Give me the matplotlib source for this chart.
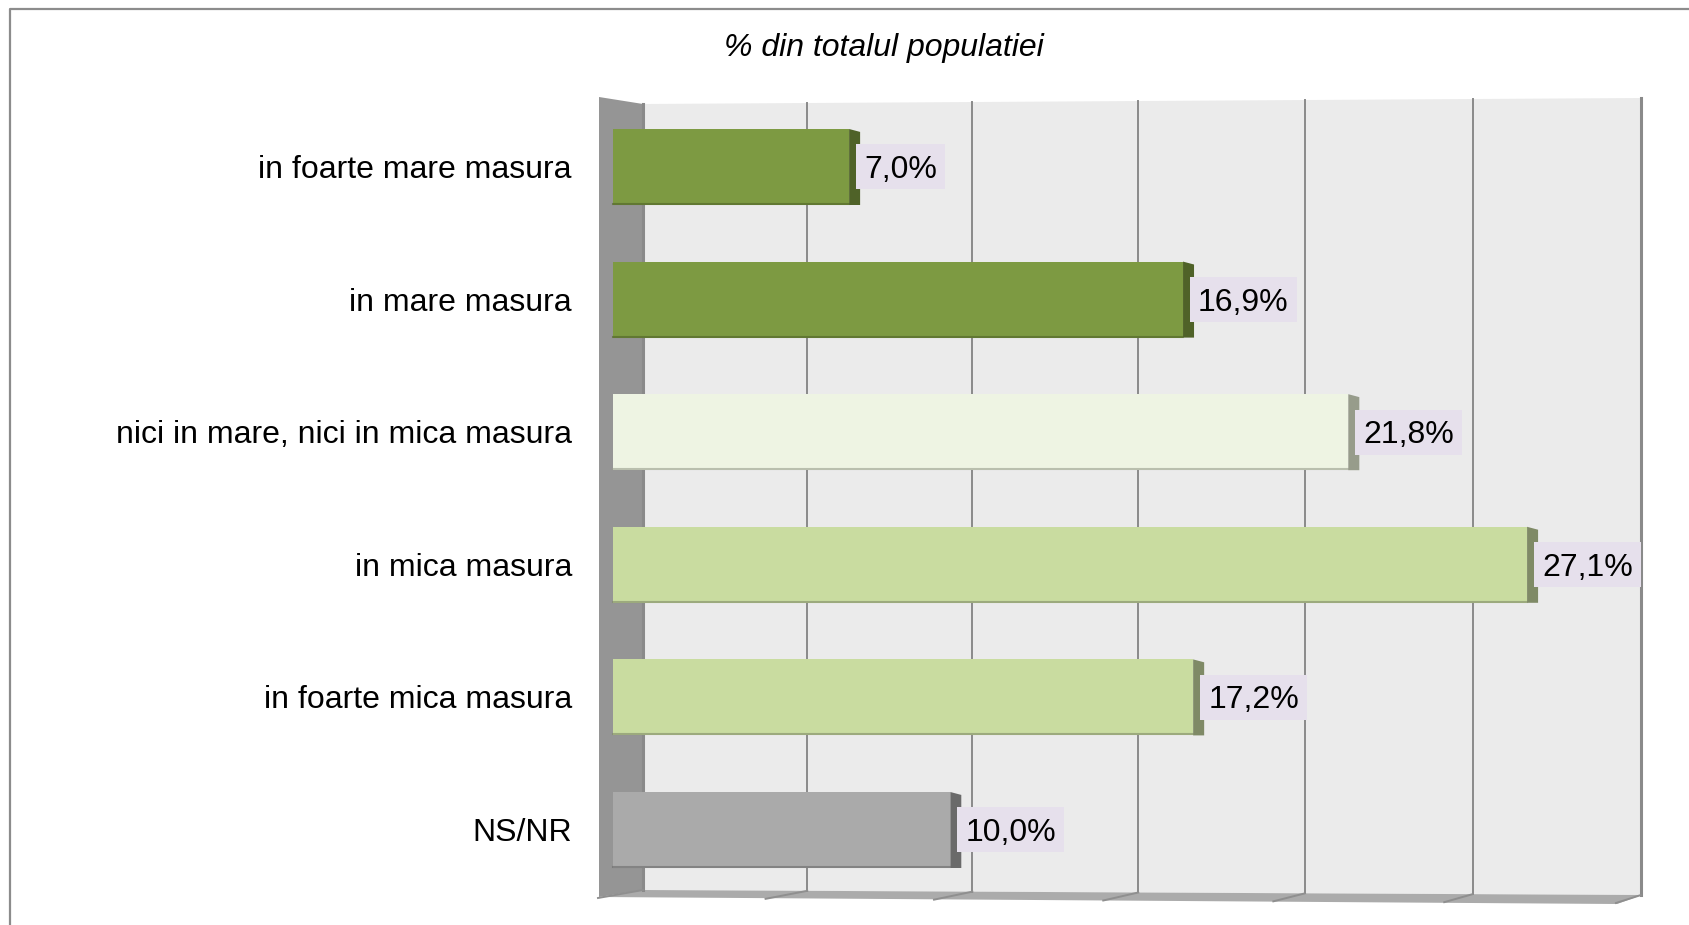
import matplotlib.pyplot as plt
from matplotlib.patches import Polygon, Rectangle
from matplotlib.lines import Line2D

plt.rcParams['font.family'] = ['Liberation Sans', 'DejaVu Sans']

categories = ['in foarte mare masura', 'in mare masura', 'nici in mare, nici in mica masura',
              'in mica masura', 'in foarte mica masura', 'NS/NR']
values = [7.0, 16.9, 21.8, 27.1, 17.2, 10.0]
front_colors = ['#7d9a42', '#7d9a42', '#eef4e3', '#c9dca0', '#c9dca0', '#aaaaaa']
side_colors = ['#4f6228', '#4f6228', '#979c8b', '#7f8a66', '#7f8a66', '#6a6a6a']
title = '% din totalul populatiei'
grid_ticks = [0, 5, 10, 15, 20, 25, 30]

W, H = 1690, 925
# pixel -> data helpers (front plane: x0=613px, 33.73 px per percent; rows 132.6 px apart)
X0, XS = 613, 33.73
Y0, YS = 167, 132.6


def fx(px):
    return (px - X0) / XS


def fy(py):
    return (py - Y0) / YS


fig = plt.figure(figsize=(W / 100, H / 100), dpi=100)
ax = fig.add_axes([0, 0, 1, 1])
ax.set_xlim(fx(0), fx(W))
ax.set_ylim(fy(H), fy(0))
ax.axis('off')

# outer frame (only left and top edges visible)
fig.add_artist(Line2D([10 / W, 10 / W, 1], [0, 1 - 9 / H, 1 - 9 / H],
                      color='#8c8c8c', lw=1.6, transform=fig.transFigure))

# back wall
bl, br = 643, 1642
back = Polygon([(fx(bl), fy(104)), (fx(br), fy(98)), (fx(br), fy(895)), (fx(bl), fy(890))],
               closed=True, facecolor='#ebebeb', edgecolor='none', zorder=0)
ax.add_patch(back)

# left wall
left = Polygon([(fx(599), fy(97)), (fx(bl), fy(104)), (fx(bl), fy(890)), (fx(599), fy(897))],
               closed=True, facecolor='#959595', edgecolor='none', zorder=1)
ax.add_patch(left)

# floor
floor = Polygon([(fx(bl), fy(890)), (fx(br), fy(895)), (fx(1617), fy(904)), (fx(599), fy(897))],
                closed=True, facecolor='#ababab', edgecolor='none', zorder=1)
ax.add_patch(floor)

# gridlines on back wall + floor ticks (slight perspective widening)
span = br - 1 - bl
for t in grid_ticks:
    frac = t / grid_ticks[-1]
    xb = bl + span * (0.985 * frac + 0.015 * frac ** 2)
    ytop = 104 + frac * (98 - 104)
    ybot = 890 + frac * (895 - 890)
    lw = 2.2 if t in (grid_ticks[0], grid_ticks[-1]) else 1.4
    ax.plot([fx(xb), fx(xb)], [fy(ytop), fy(ybot)], color='#8a8a8a', lw=lw, zorder=1.5)
    off = 45 + frac * (25 - 45)
    ax.plot([fx(xb), fx(xb - off)], [fy(ybot), fy(ybot + 8)], color='#8f8f8f', lw=1.4, zorder=1.6)

# bars
ypos = list(range(len(categories)))
h = 76 / YS
sw = 11 / XS
ax.barh(ypos, values, height=h, left=0, color=front_colors, edgecolor='none', zorder=3)
for y, v, sc in zip(ypos, values, side_colors):
    side = Polygon([(v, y - h / 2), (v + sw, y - h / 2 + 0.022), (v + sw, y + h / 2), (v, y + h / 2)],
                   closed=True, facecolor=sc, edgecolor='none', zorder=3)
    ax.add_patch(side)
    ax.plot([0, v], [y + h / 2 - 0.008, y + h / 2 - 0.008], color=sc, lw=1.5, alpha=0.6, zorder=3.1)

dy = 3 / YS

# category labels
for y, c in zip(ypos, categories):
    ax.text(fx(572), y + dy, c, ha='right', va='center', fontsize=23, color='black')

# value labels with box
texts = []
for y, v in zip(ypos, values):
    lab = f'{v:.1f}%'.replace('.', ',')
    t = ax.text(v + 15 / XS, y + dy, lab, ha='left', va='center', fontsize=23, color='black', zorder=5)
    texts.append(t)

fig.canvas.draw()
renderer = fig.canvas.get_renderer()
inv = ax.transData.inverted()
for t, y in zip(texts, ypos):
    bb = t.get_window_extent(renderer)
    x0d, _ = inv.transform((bb.x0 - 8, 0))
    x1d, _ = inv.transform((bb.x1 + 8, 0))
    hh = 45 / YS
    ax.add_patch(Rectangle((x0d, y - hh / 2), x1d - x0d, hh, facecolor='#e6e0ec',
                           edgecolor='none', zorder=4))

fig.text(884 / W, 1 - 48 / H, title, ha='center', va='center', fontsize=23,
         style='italic', color='black')

fig.savefig('out.png', dpi=100)
